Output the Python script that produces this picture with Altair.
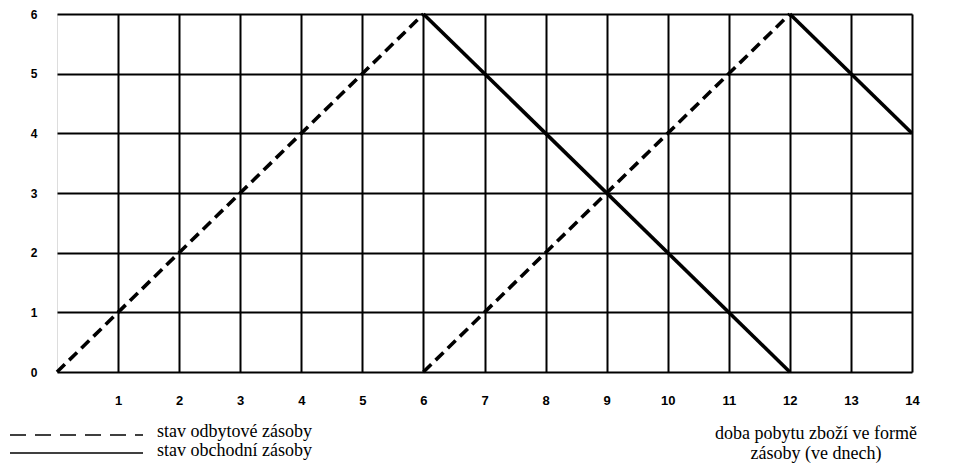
import altair as alt
import pandas as pd

# Data
seg_id = ["d1", "d1", "d2", "d2", "s1", "s1", "s2", "s2"]
series = ["stav odbytové zásoby"] * 4 + ["stav obchodní zásoby"] * 4
day = [0, 6, 6, 12, 6, 12, 12, 14]
stock = [0, 6, 0, 6, 6, 0, 6, 4]
x_ticks = list(range(1, 15))
y_ticks = list(range(0, 7))
legend_labels = ["stav odbytové zásoby", "stav obchodní zásoby"]
caption_lines = ["doba pobytu zboží ve formě", "zásoby (ve dnech)"]

df = pd.DataFrame({"seg": seg_id, "series": series, "day": day, "stock": stock})

TOP = 6
W, H = 855, 358

xscale = alt.Scale(domain=[0, 14], nice=False, zero=False)
yscale = alt.Scale(domain=[0, 6], nice=False)

xaxis = alt.Axis(values=x_ticks, format="d", title=None, grid=True, gridColor="black", gridWidth=2,
                 gridOpacity=1, ticks=False, domain=False, labelFont="Liberation Sans",
                 labelFontWeight="bold", labelFontSize=13, labelPadding=22, labelColor="black",
                 labelFlush=False)
yaxis = alt.Axis(values=y_ticks, format="d", title=None, grid=True, gridColor="black", gridWidth=2,
                 gridOpacity=1, ticks=False, domain=False, labelFont="Liberation Sans",
                 labelFontWeight="bold", labelFontSize=12, labelPadding=20, labelColor="black",
                 labelFlush=False)

base = alt.Chart(df)

dashed = base.transform_filter(alt.datum.series == "stav odbytové zásoby").mark_line(
    color="black", strokeWidth=3.6, strokeDash=[11, 6]
).encode(
    x=alt.X("day:Q", scale=xscale, axis=xaxis),
    y=alt.Y("stock:Q", scale=yscale, axis=yaxis),
    detail="seg:N",
)

solid = base.transform_filter(alt.datum.series == "stav obchodní zásoby").mark_line(
    color="black", strokeWidth=3.6
).encode(
    x=alt.X("day:Q", scale=xscale),
    y=alt.Y("stock:Q", scale=yscale),
    detail="seg:N",
)

leg_dash = alt.Chart(pd.DataFrame({"a": [0]})).mark_rule(
    color="black", strokeWidth=1.5, strokeDash=[16, 9]
).encode(x=alt.value(-47), x2=alt.value(86), y=alt.value(421))

leg_solid = alt.Chart(pd.DataFrame({"a": [0]})).mark_rule(
    color="black", strokeWidth=1.5
).encode(x=alt.value(-47), x2=alt.value(86), y=alt.value(439))

leg_text = alt.Chart(pd.DataFrame({"t": legend_labels, "yy": [418, 437]})).mark_text(
    font="Liberation Serif", fontSize=18, align="left", baseline="middle", color="black"
).encode(text="t:N", x=alt.value(100), y=alt.Y("yy:Q", scale=None))

cap_text = alt.Chart(pd.DataFrame({"t": caption_lines, "yy": [420, 440]})).mark_text(
    font="Liberation Serif", fontSize=18, align="center", baseline="middle", color="black"
).encode(text="t:N", x=alt.value(759), y=alt.Y("yy:Q", scale=None))

chart = alt.layer(dashed, solid, leg_dash, leg_solid, leg_text, cap_text).properties(
    width=W, height=H,
    autosize=alt.AutoSizeParams(type="none"),
    padding={"left": 49, "top": TOP, "right": 50, "bottom": 96},
).configure_view(stroke="black", strokeWidth=3).configure(background="white")

chart.save("out.html", embed_options={"renderer": "svg", "actions": False})
